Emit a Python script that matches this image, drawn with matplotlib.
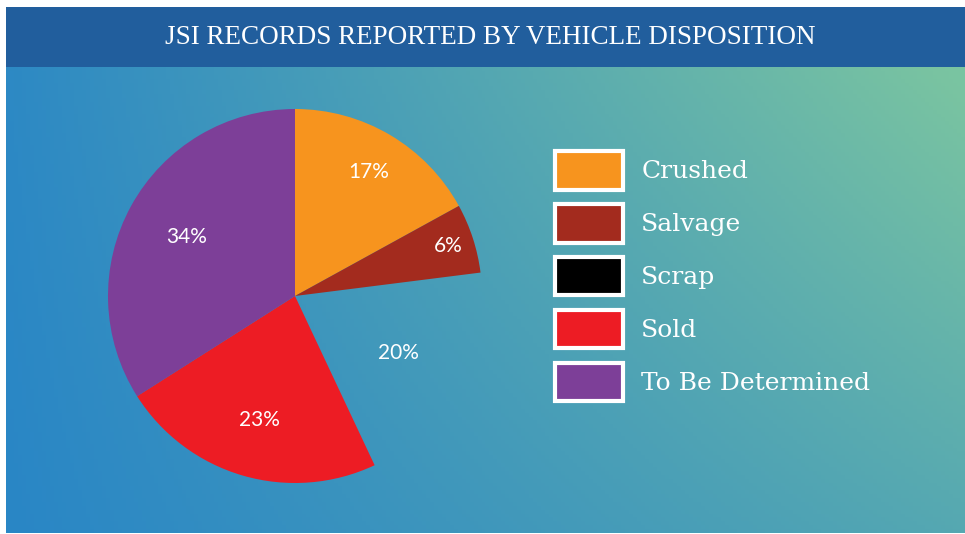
import numpy as np
import matplotlib.pyplot as plt
from matplotlib.patches import Patch, Rectangle

# datos del grafico
categorias = ['Crushed', 'Salvage', 'Scrap', 'Sold', 'To Be Determined']
porcentajes = [17, 6, 20, 23, 34]
colores = ['#f7941e', '#a32b1e', '#000000', '#ed1c24', '#7d3f98']
titulo = 'JSI RECORDS REPORTED BY VEHICLE DISPOSITION'

# el sector Scrap no se ve en el pastel, solo en la leyenda
visible = [True, True, False, True, True]
dist_etiqueta = [0.77, 0.86, 0.63, 0.69, 0.66]

fig = plt.figure(figsize=(9.65, 5.34), dpi=100)
fig.patch.set_facecolor('white')

# fondo degradado
bg = fig.add_axes([6/965, 1/534, 959/965, 466/534])
bg.set_axis_off()
nx, ny = 240, 120
gx, gy = np.meshgrid(np.linspace(0, 1, nx), np.linspace(0, 1, ny))
t = np.clip(0.05*gy + gx*(0.55 + 0.42*gy), 0, 1)[..., None]
c0 = np.array([0x29, 0x86, 0xc6]) / 255
c1 = np.array([0x7a, 0xc4, 0xa1]) / 255
img = c0 + (c1 - c0)*t
bg.imshow(img, origin='lower', aspect='auto', extent=[0, 1, 0, 1])

# barra del titulo
fig.patches.append(Rectangle((6/965, 467/534), 959/965, 60/534,
                             transform=fig.transFigure, facecolor='#215e9d',
                             edgecolor='none'))
fig.text(490/965, 497/534, titulo, ha='center', va='center', color='white',
         fontsize=19.5, family='Liberation Serif')

# pastel
ax = fig.add_axes([(295-187)/965, (534-296-187)/534, 374/965, 374/534])
ax.set_axis_off()
cols_pie = [c if v else 'none' for c, v in zip(colores, visible)]
wedges, _ = ax.pie(porcentajes, colors=cols_pie, startangle=90,
                   counterclock=False, radius=1)
ax.set_xlim(-1, 1)
ax.set_ylim(-1, 1)
for w, p, d in zip(wedges, porcentajes, dist_etiqueta):
    ang = np.deg2rad((w.theta1 + w.theta2) / 2)
    ax.text(d*np.cos(ang), d*np.sin(ang), f'{p}%', ha='center', va='center',
            color='white', fontsize=15, family='Lato')

# leyenda
handles = [Patch(facecolor=c, edgecolor='white', linewidth=3) for c in colores]
leg = fig.legend(handles, categorias, loc='upper left',
                 bbox_to_anchor=(555/965, (534-151)/534), frameon=False,
                 prop={'family': 'DejaVu Serif', 'size': 18},
                 handlelength=2.7, handleheight=2.0, labelspacing=0.57,
                 handletextpad=0.75, borderpad=0, borderaxespad=0)
for txt in leg.get_texts():
    txt.set_color('white')

fig.savefig('out.png', dpi=100)
